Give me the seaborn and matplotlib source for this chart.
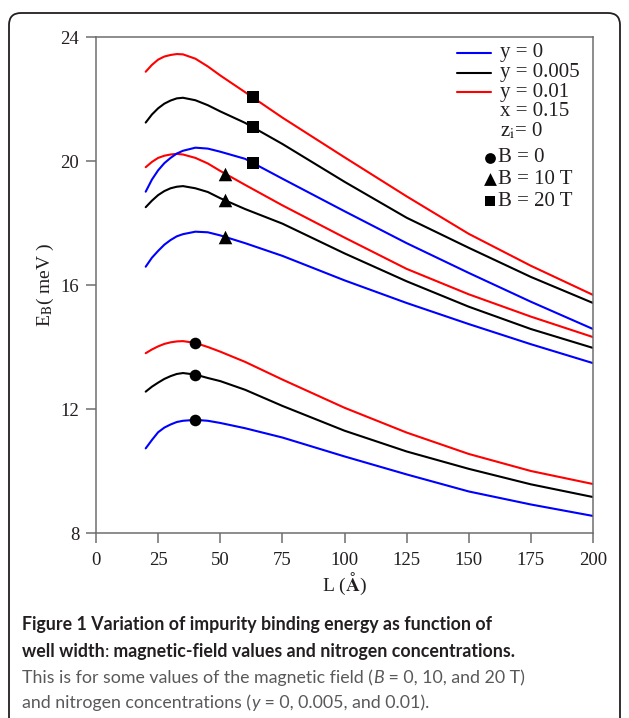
import numpy as np
import pandas as pd
import matplotlib
matplotlib.use("Agg")
import matplotlib.pyplot as plt
import seaborn as sns
from matplotlib.patches import FancyBboxPatch
from matplotlib.lines import Line2D

# well width L (Angstrom)
L = [20, 22.5, 25, 27.5, 30, 32.5, 35, 40, 45, 50, 60, 75, 100, 125, 150, 175, 200]

# binding energy E_B (meV)
# B = 20 T
b20_y0 = [19.01, 19.40, 19.70, 19.93, 20.10, 20.24, 20.33, 20.43, 20.40, 20.30, 20.07, 19.43, 18.38, 17.35, 16.39, 15.46, 14.58]
b20_y005 = [21.24, 21.50, 21.70, 21.85, 21.95, 22.02, 22.04, 21.96, 21.80, 21.60, 21.23, 20.55, 19.33, 18.17, 17.20, 16.26, 15.42]
b20_y01 = [22.88, 23.10, 23.27, 23.37, 23.42, 23.45, 23.44, 23.30, 23.05, 22.76, 22.22, 21.40, 20.12, 18.86, 17.65, 16.62, 15.68]
# B = 10 T
b10_y0 = [16.59, 16.88, 17.10, 17.30, 17.45, 17.57, 17.64, 17.72, 17.70, 17.60, 17.35, 16.94, 16.15, 15.42, 14.74, 14.09, 13.48]
b10_y005 = [18.51, 18.72, 18.90, 19.03, 19.12, 19.17, 19.19, 19.12, 19.00, 18.80, 18.45, 17.98, 17.02, 16.12, 15.30, 14.58, 13.97]
b10_y01 = [19.80, 19.97, 20.10, 20.17, 20.21, 20.23, 20.21, 20.10, 19.92, 19.68, 19.23, 18.57, 17.53, 16.52, 15.70, 14.98, 14.32]
# B = 0
b0_y0 = [10.73, 11.00, 11.25, 11.40, 11.50, 11.58, 11.62, 11.65, 11.62, 11.55, 11.38, 11.08, 10.47, 9.89, 9.34, 8.92, 8.55]
b0_y005 = [12.56, 12.72, 12.85, 12.97, 13.06, 13.13, 13.16, 13.11, 13.00, 12.90, 12.62, 12.10, 11.30, 10.63, 10.07, 9.57, 9.16]
b0_y01 = [13.80, 13.92, 14.02, 14.10, 14.15, 14.18, 14.19, 14.13, 14.00, 13.85, 13.52, 12.95, 12.04, 11.24, 10.55, 10.00, 9.58]

# where the B markers sit on each group
marker_L = {"B = 0": 40, "B = 10 T": 52, "B = 20 T": 63}
marker_style = {"B = 0": "o", "B = 10 T": "^", "B = 20 T": "s"}

y_colors = {"y = 0": "#0000ff", "y = 0.005": "#000000", "y = 0.01": "#ff0000"}

groups = {
    "B = 0": {"y = 0": b0_y0, "y = 0.005": b0_y005, "y = 0.01": b0_y01},
    "B = 10 T": {"y = 0": b10_y0, "y = 0.005": b10_y005, "y = 0.01": b10_y01},
    "B = 20 T": {"y = 0": b20_y0, "y = 0.005": b20_y005, "y = 0.01": b20_y01},
}

sns.set_style("ticks")
plt.rcParams["font.family"] = ["Liberation Serif", "DejaVu Serif"]
plt.rcParams["mathtext.fontset"] = "stix"

W, H = 629, 718
fig = plt.figure(figsize=(W / 100, H / 100), dpi=100)
ax = fig.add_axes([96 / W, 1 - 533 / H, (593 - 96) / W, (533 - 37) / H])

for b, curves in groups.items():
    for yl, vals in curves.items():
        d = pd.DataFrame({"L": L, "E": vals})
        sns.lineplot(data=d, x="L", y="E", color=y_colors[yl], lw=1.5, ax=ax, legend=False)
        ml = marker_L[b]
        ax.scatter([ml], [np.interp(ml, L, vals)], marker=marker_style[b],
                   s=70 if marker_style[b] != "^" else 95, color="black", zorder=5, linewidths=0)

ax.set_xlim(0, 200)
ax.set_ylim(8, 24)
ax.set_xticks(np.arange(0, 201, 25))
ax.set_yticks(np.arange(8, 25, 4))
for s in ax.spines.values():
    s.set_color("#6e6e6e")
    s.set_linewidth(1.1)
ax.tick_params(direction="out", length=7, width=1.1, color="#6e6e6e",
               labelsize=13.5, labelcolor="#231f20")
ax.tick_params(axis="x", pad=7)
ax.tick_params(axis="y", pad=5)
ax.set_xlabel("L ($\\mathbf{\\AA}$)", fontsize=14, color="#231f20", labelpad=1)
ax.set_ylabel("E$_\\mathrm{B}$( meV )", fontsize=14, color="#231f20", labelpad=3)

# legend drawn by hand in axes coordinates
def ax_xy(px, py):
    return (px - 96) / (593 - 96), (533 - py) / (533 - 37)

rows = [("y = 0", 53), ("y = 0.005", 73), ("y = 0.01", 92)]
for lab, py in rows:
    x0, yy = ax_xy(457, py)
    x1, _ = ax_xy(491, py)
    ax.add_line(Line2D([x0, x1], [yy, yy], color=y_colors[lab], lw=1.5, transform=ax.transAxes))
    tx, _ = ax_xy(500, py)
    ax.text(tx, yy, lab, transform=ax.transAxes, fontsize=15, va="center", ha="left", color="#231f20")

tx, yy = ax_xy(500, 112)
ax.text(tx, yy, "x = 0.15", transform=ax.transAxes, fontsize=15, va="center", ha="left", color="#231f20")
tx, yy = ax_xy(500, 131)
ax.text(tx, yy, "z$_\\mathrm{i}$= 0", transform=ax.transAxes, fontsize=15, va="center", ha="left", color="#231f20")

for lab, py in [("B = 0", 158), ("B = 10 T", 179), ("B = 20 T", 201)]:
    mx, yy = ax_xy(490, py)
    ax.scatter([mx], [yy], marker=marker_style[lab], s=60 if marker_style[lab] != "^" else 85,
               color="black", transform=ax.transAxes, linewidths=0, clip_on=False)
    tx, _ = ax_xy(498, py)
    ax.text(tx, yy, lab, transform=ax.transAxes, fontsize=15, va="center", ha="left", color="#231f20")

# rounded panel border
frame = FancyBboxPatch((9, -30), 611, H - 12 + 30 - 1, boxstyle="round,pad=0,rounding_size=12",
                       transform=None, fill=False, ec="#231f20", lw=1.3)
fig.patches.append(frame)

# caption
cap_font = ["Lato", "DejaVu Sans"]
renderer = fig.canvas.get_renderer()

def put(parts, px, py):
    x = px / W
    for s, kw in parts:
        t = fig.text(x, 1 - py / H, s, va="baseline", ha="left", family=cap_font, **kw)
        x += t.get_window_extent(renderer).width / fig.bbox.width

fs = 12.8
bold = dict(fontsize=fs, fontweight="bold", color="#231f20")
plain = dict(fontsize=fs, color="#231f20")
reg = dict(fontsize=fs, color="#58595b")
ital = dict(fontsize=fs, color="#58595b", style="italic")

put([("Figure 1 Variation of impurity binding energy as function of", bold)], 22, 630)
put([("well width", bold), (":", plain),
     (" magnetic-field values and nitrogen concentrations.", bold)], 22, 657)
put([("This is for some values of the magnetic field (", reg), ("B", ital),
     (" = 0, 10, and 20 T)", reg)], 22, 683)
put([("and nitrogen concentrations (", reg), ("y", ital),
     (" = 0, 0.005, and 0.01).", reg)], 22, 708)

fig.savefig("out.png", dpi=100)
